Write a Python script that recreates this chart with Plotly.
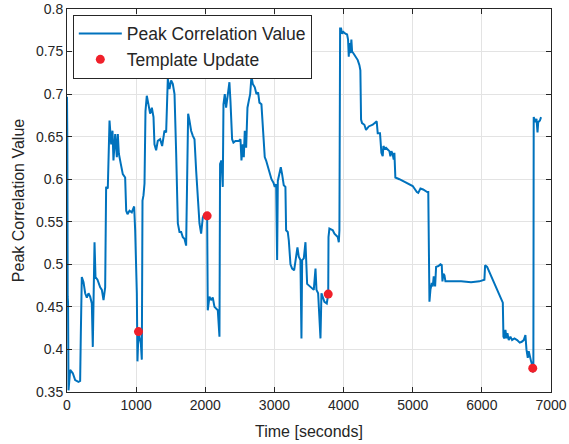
import plotly.graph_objects as go

# Peak correlation trace over the run (seconds, correlation value)
time_s = [
    0, 5, 10, 15, 22, 46, 84, 118, 166, 190, 200, 214, 239, 263, 287, 311, 335, 359, 373, 383,
    398, 412, 441, 480, 504, 528, 552, 566, 590, 615, 639, 658, 672, 697, 721, 735, 750, 778, 807, 841,
    856, 875, 904, 937, 971, 986, 1010, 1019, 1034, 1048, 1068, 1082, 1092, 1106, 1121, 1135, 1154, 1178, 1202, 1227,
    1251, 1265, 1289, 1313, 1347, 1376, 1410, 1434, 1458, 1482, 1506, 1530, 1555, 1579, 1603, 1627, 1651, 1675, 1699, 1723,
    1738, 1752, 1771, 1795, 1820, 1844, 1868, 1892, 1916, 1940, 1964, 1988, 2027, 2036, 2060, 2084, 2108, 2133, 2157, 2181,
    2205, 2214, 2234, 2253, 2263, 2282, 2301, 2325, 2349, 2364, 2388, 2407, 2436, 2485, 2509, 2523, 2543, 2557, 2571, 2591,
    2610, 2629, 2649, 2668, 2687, 2716, 2740, 2764, 2783, 2812, 2836, 2860, 2880, 2904, 2928, 2957, 2986, 3005, 3025, 3039,
    3049, 3073, 3092, 3111, 3135, 3159, 3169, 3193, 3208, 3232, 3256, 3285, 3309, 3333, 3352, 3376, 3391, 3401, 3425, 3449,
    3473, 3497, 3536, 3569, 3594, 3608, 3632, 3652, 3666, 3680, 3723, 3757, 3778, 3782, 3795, 3820, 3844, 3868, 3892, 3916,
    3931, 3940, 3950, 3964, 3979, 3998, 4027, 4051, 4065, 4075, 4084, 4099, 4113, 4123, 4142, 4171, 4205, 4229, 4243, 4253,
    4267, 4301, 4325, 4364, 4422, 4479, 4494, 4527, 4547, 4566, 4576, 4595, 4614, 4638, 4663, 4677, 4692, 4711, 4725, 4735,
    4749, 4807, 4904, 5000, 5060, 5080, 5112, 5150, 5210, 5225, 5242, 5256, 5276, 5290, 5304, 5324, 5338, 5372, 5401, 5420,
    5430, 5444, 5459, 5473, 5555, 5700, 5844, 5965, 6037, 6047, 6076, 6134, 6207, 6269, 6303, 6312, 6327, 6341, 6356, 6370,
    6389, 6413, 6437, 6471, 6510, 6548, 6577, 6606, 6630, 6645, 6664, 6678, 6698, 6712, 6727, 6736, 6740, 6745, 6750, 6775,
    6790, 6805, 6815, 6840, 6856,
]
peak_val = [
    0.697, 0.641, 0.462, 0.455, 0.352, 0.376, 0.372, 0.364, 0.362, 0.363, 0.419, 0.485, 0.479, 0.466, 0.461, 0.466, 0.462, 0.454, 0.403, 0.458,
    0.526, 0.485, 0.482, 0.473, 0.470, 0.458, 0.473, 0.591, 0.589, 0.669, 0.641, 0.657, 0.622, 0.653, 0.626, 0.653, 0.630, 0.618, 0.606, 0.602,
    0.563, 0.559, 0.563, 0.561, 0.568, 0.540, 0.466, 0.386, 0.421, 0.415, 0.407, 0.388, 0.575, 0.581, 0.595, 0.680, 0.698, 0.688, 0.677, 0.684,
    0.673, 0.641, 0.634, 0.645, 0.647, 0.639, 0.657, 0.655, 0.718, 0.706, 0.716, 0.712, 0.700, 0.630, 0.548, 0.538, 0.538, 0.532, 0.530, 0.522,
    0.622, 0.677, 0.669, 0.657, 0.651, 0.647, 0.610, 0.575, 0.548, 0.536, 0.555, 0.559, 0.557, 0.446, 0.462, 0.458, 0.461, 0.450, 0.448, 0.446,
    0.415, 0.618, 0.622, 0.591, 0.688, 0.700, 0.684, 0.702, 0.714, 0.692, 0.647, 0.643, 0.645, 0.645, 0.647, 0.622, 0.641, 0.626, 0.657, 0.637,
    0.684, 0.692, 0.700, 0.721, 0.712, 0.708, 0.700, 0.702, 0.690, 0.688, 0.657, 0.626, 0.622, 0.614, 0.606, 0.600, 0.596, 0.591, 0.594, 0.505,
    0.598, 0.610, 0.614, 0.606, 0.593, 0.591, 0.540, 0.538, 0.528, 0.500, 0.495, 0.493, 0.505, 0.520, 0.509, 0.505, 0.413, 0.505, 0.507, 0.526,
    0.477, 0.475, 0.473, 0.470, 0.495, 0.470, 0.466, 0.442, 0.413, 0.466, 0.456, 0.454, 0.465, 0.532, 0.542, 0.541, 0.540, 0.536, 0.534, 0.532,
    0.526, 0.540, 0.777, 0.777, 0.771, 0.773, 0.771, 0.770, 0.764, 0.744, 0.760, 0.748, 0.764, 0.750, 0.748, 0.744, 0.740, 0.734, 0.728, 0.670,
    0.666, 0.664, 0.658, 0.662, 0.664, 0.668, 0.654, 0.654, 0.631, 0.627, 0.639, 0.636, 0.637, 0.635, 0.633, 0.627, 0.633, 0.629, 0.623, 0.631,
    0.602, 0.600, 0.596, 0.592, 0.585, 0.584, 0.589, 0.588, 0.585, 0.585, 0.456, 0.470, 0.478, 0.474, 0.486, 0.474, 0.497, 0.498, 0.500, 0.499,
    0.480, 0.489, 0.487, 0.480, 0.480, 0.480, 0.479, 0.480, 0.482, 0.499, 0.497, 0.486, 0.472, 0.460, 0.455, 0.415, 0.413, 0.423, 0.413, 0.419,
    0.411, 0.415, 0.411, 0.413, 0.411, 0.408, 0.409, 0.411, 0.417, 0.400, 0.390, 0.398, 0.388, 0.386, 0.382, 0.378, 0.373, 0.380, 0.673, 0.667,
    0.671, 0.655, 0.667, 0.669, 0.673,
]

# Moments where the matching template was refreshed
update_times = [1034, 2027, 3778, 6736]
update_vals = [0.421, 0.557, 0.465, 0.378]

x_ticks = [0, 1000, 2000, 3000, 4000, 5000, 6000, 7000]
y_ticks = [0.35, 0.4, 0.45, 0.5, 0.55, 0.6, 0.65, 0.7, 0.75, 0.8]
y_tick_text = ["0.35", "0.4", "0.45", "0.5", "0.55", "0.6", "0.65", "0.7", "0.75", "0.8"]

FONT = "Liberation Sans, Arial, Helvetica, sans-serif"
INK = "#262626"

fig = go.Figure()
fig.add_trace(go.Scatter(
    x=time_s, y=peak_val, mode="lines", name="Peak Correlation Value",
    line=dict(color="#0072BD", width=2),
))
fig.add_trace(go.Scatter(
    x=update_times, y=update_vals, mode="markers", name="Template Update",
    marker=dict(color="#F0202A", size=9, line=dict(width=0)),
))

axis_common = dict(
    showline=True, linecolor=INK, linewidth=1, mirror="ticks",
    ticks="inside", ticklen=5, tickcolor=INK, tickwidth=1,
    showgrid=True, gridcolor="#E3E3E3", gridwidth=1,
    zeroline=False, automargin=False,
    tickfont=dict(family=FONT, size=14, color=INK),
)

fig.update_xaxes(
    range=[0, 7000], tickvals=x_ticks, ticktext=[str(v) for v in x_ticks],
    title=dict(text="Time [seconds]", font=dict(family=FONT, size=16, color=INK), standoff=14),
    **axis_common,
)
fig.update_yaxes(
    range=[0.35, 0.8], tickvals=y_ticks, ticktext=y_tick_text,
    title=dict(text="Peak Correlation Value", font=dict(family=FONT, size=16, color=INK), standoff=7),
    **axis_common,
)

fig.update_layout(
    width=569, height=444,
    margin=dict(l=67, r=18, t=9, b=52),
    paper_bgcolor="white", plot_bgcolor="white",
    font=dict(family=FONT, color=INK),
    legend=dict(
        x=0.012, y=0.985, xanchor="left", yanchor="top",
        bgcolor="white", bordercolor=INK, borderwidth=1,
        font=dict(family=FONT, size=17.5, color=INK),
        itemwidth=43, tracegroupgap=0,
    ),
)

fig.write_html("out.html")
